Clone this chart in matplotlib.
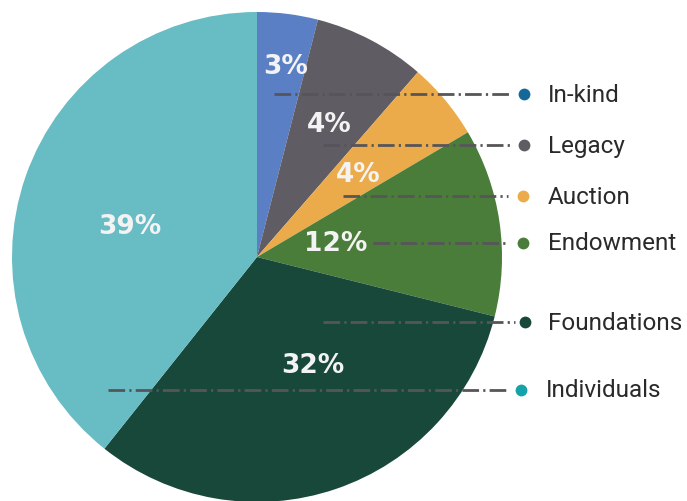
import matplotlib
matplotlib.use("Agg")
import matplotlib.pyplot as plt

# Data
categories = ["In-kind", "Legacy", "Auction", "Endowment", "Foundations", "Individuals"]
slice_shares = [4.0, 7.4, 5.1, 12.4, 31.8, 39.3]
pct_labels = ["3%", "4%", "4%", "12%", "32%", "39%"]

slice_colors = ["#5b7fc4", "#5f5c63", "#ecab4b", "#4a7c3a", "#17483a", "#68bcc4"]
dot_colors = ["#17689a", "#5f5c63", "#ecab4b", "#4a7c3a", "#17483a", "#14a3a8"]

W, H = 687, 502
fig = plt.figure(figsize=(W / 100, H / 100), dpi=100)
ax = fig.add_axes([0, 0, 1, 1])

cx, cy, r = 257, H - 258, 245
wedges, _ = ax.pie(slice_shares, colors=slice_colors, startangle=90,
                   counterclock=False, center=(cx, cy), radius=r,
                   wedgeprops=dict(linewidth=0), frame=True)
ax.set_xlim(0, W)
ax.set_ylim(0, H)
ax.set_aspect("equal")
ax.axis("off")

# percentage labels (pixel positions, top-origin)
pct_pos = [(286, 67), (329, 125), (358, 175), (336, 244), (313, 366), (130, 227)]
for (x, y), t in zip(pct_pos, pct_labels):
    ax.text(x, H - y, t, color="#f3f3f3", fontsize=19, fontweight="bold",
            family="DejaVu Sans", ha="center", va="center")

# leader lines and legend
plt.rcParams["lines.scale_dashes"] = False
row_y = [95, 146, 197, 244, 323, 391]
line_start = [274, 323, 343, 373, 323, 108]
line_end = [510, 512, 508, 508, 515, 507]
dot_x = [524, 524, 523, 523, 525, 521]
text_x = [548, 548, 548, 548, 548, 546]
for i, name in enumerate(categories):
    y = H - row_y[i]
    ax.plot([line_start[i], line_end[i]], [y, y], color="#58555a", lw=2,
            linestyle=(0, (12, 3, 1.6, 3)), solid_capstyle="butt",
            dash_capstyle="butt")
    ax.plot(dot_x[i], y, "o", color=dot_colors[i], markersize=8.5,
            markeredgewidth=0)
    ax.text(text_x[i], y, name, fontsize=17.5, family="Roboto", color="#2a2a2a",
            ha="left", va="center")

fig.savefig("out.png", dpi=100)
